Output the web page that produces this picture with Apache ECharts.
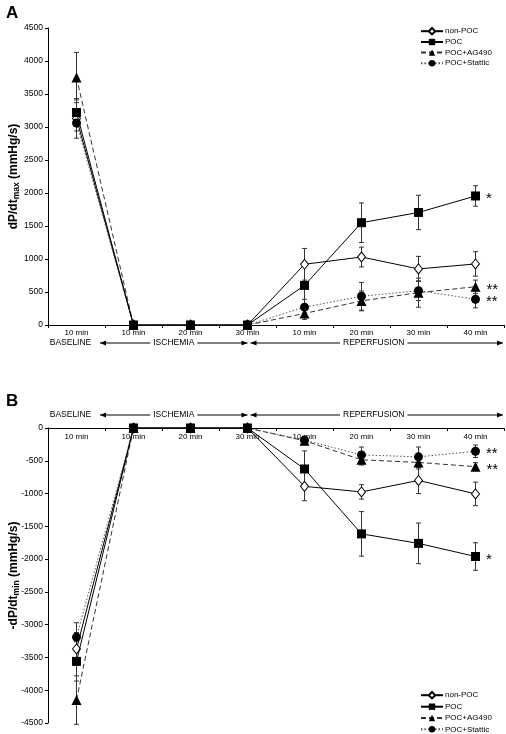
<!DOCTYPE html>
<html><head><meta charset="utf-8">
<script src="https://cdn.jsdelivr.net/npm/echarts@6/dist/echarts.min.js"></script>
<style>html,body{margin:0;padding:0;background:#fff}#c{width:506px;height:734px}</style>
</head><body><div id="c"></div>
<script>
// ---- data ----
const categories = ['10 min','10 min','20 min','30 min','10 min','20 min','30 min','40 min'];
const seriesNames = ['non-POC','POC','POC+AG490','POC+Stattic'];
const yTicksMax = [0, 4500, 500];
const yTicksMin = [-4500, 0, 500];

const nonPOC_max  = [3130, 0, 0, 0, 920, 1030, 850, 925];
const POC_max     = [3220, 0, 0, 0, 600, 1550, 1705, 1955];
const AG490_max   = [3750, 0, 0, 0, 175, 365, 490, 580];
const Stattic_max = [3060, 0, 0, 0, 270, 435, 520, 390];
const nonPOC_maxErr  = [300, 0, 0, 0, 240, 150, 190, 185];
const POC_maxErr     = [190, 0, 0, 0, 300, 300, 260, 155];
const AG490_maxErr   = [380, 0, 0, 0, 90, 150, 220, 100];
const Stattic_maxErr = [120, 0, 0, 0, 120, 210, 150, 130];

const nonPOC_min  = [-3370, 0, 0, 0, -890, -975, -800, -1005];
const POC_min     = [-3560, 0, 0, 0, -625, -1615, -1760, -1960];
const AG490_min   = [-4150, 0, 0, 0, -195, -485, -525, -590];
const Stattic_min = [-3190, 0, 0, 0, -185, -410, -440, -355];
const nonPOC_minErr  = [250, 0, 0, 0, 220, 110, 200, 180];
const POC_minErr     = [300, 0, 0, 0, 275, 340, 310, 210];
const AG490_minErr   = [370, 0, 0, 0, 60, 80, 100, 60];
const Stattic_minErr = [220, 0, 0, 0, 60, 120, 150, 95];

const stars = {'non-POC':'', 'POC':'*', 'POC+AG490':'**', 'POC+Stattic':'**'};
const phases = ['BASELINE','ISCHEMIA','REPERFUSION'];

// ---- styles ----
const FONT = '"Liberation Sans", Arial, sans-serif';
const styles = {
  'non-POC':    {symbol:'diamond', size:[8,10], item:{color:'#fff', borderColor:'#000', borderWidth:1}, line:{color:'#000', width:1, type:'solid'}, z:3},
  'POC':        {symbol:'rect', size:9, item:{color:'#000'}, line:{color:'#000', width:1, type:'solid'}, z:6},
  'POC+AG490':  {symbol:'triangle', size:10, item:{color:'#000'}, line:{color:'#333', width:1, type:[5,3]}, z:4},
  'POC+Stattic':{symbol:'circle', size:9, item:{color:'#000'}, line:{color:'#555', width:1, type:[1.5,2]}, z:5}
};
const maxVals = {'non-POC':nonPOC_max, 'POC':POC_max, 'POC+AG490':AG490_max, 'POC+Stattic':Stattic_max};
const maxErrs = {'non-POC':nonPOC_maxErr, 'POC':POC_maxErr, 'POC+AG490':AG490_maxErr, 'POC+Stattic':Stattic_maxErr};
const minVals = {'non-POC':nonPOC_min, 'POC':POC_min, 'POC+AG490':AG490_min, 'POC+Stattic':Stattic_min};
const minErrs = {'non-POC':nonPOC_minErr, 'POC':POC_minErr, 'POC+AG490':AG490_minErr, 'POC+Stattic':Stattic_minErr};

function lineSeries(name, vals, gi) {
  const s = styles[name];
  const data = vals.map((v, i) => {
    if (i === vals.length - 1 && stars[name]) {
      return {value: v, label: {show: true, formatter: stars[name], position: 'right', distance: 6,
        fontSize: 15, color: '#000', fontFamily: FONT, offset:[0,3]}};
    }
    return v;
  });
  return {
    type: 'line', name, xAxisIndex: gi, yAxisIndex: gi, data,
    symbol: s.symbol, symbolSize: s.size, showAllSymbol: true,
    itemStyle: s.item, lineStyle: s.line, z: s.z, animation: false,
    emphasis: {disabled: true}, clip: false
  };
}
function errSeries(valsMap, errMap, gi) {
  const data = [];
  seriesNames.forEach(n => valsMap[n].forEach((v, i) => { if (errMap[n][i]) data.push([i, v, errMap[n][i]]); }));
  return {
    type: 'custom', xAxisIndex: gi, yAxisIndex: gi, data, z: 1, clip: false, animation: false, silent: true,
    encode: {x: 0, y: 1},
    renderItem: function (params, api) {
      const x = api.value(0), y = api.value(1), e = api.value(2);
      const hi = api.coord([x, y + e]), lo = api.coord([x, y - e]);
      const w = 2.5, st = {stroke: '#333', lineWidth: 1};
      return {type: 'group', children: [
        {type: 'line', shape: {x1: hi[0], y1: hi[1], x2: lo[0], y2: lo[1]}, style: st},
        {type: 'line', shape: {x1: hi[0] - w, y1: hi[1], x2: hi[0] + w, y2: hi[1]}, style: st},
        {type: 'line', shape: {x1: lo[0] - w, y1: lo[1], x2: lo[0] + w, y2: lo[1]}, style: st}
      ]};
    }
  };
}

const axisLine = {show: true, onZero: false, lineStyle: {color: '#000', width: 1}};
const xLabelStyle = {fontSize: 8, color: '#000', fontFamily: FONT};
const yLabelStyle = {fontSize: 8.5, color: '#000', fontFamily: FONT, formatter: v => String(v)};
function nameRich() {
  return {
    fontFamily: FONT, color: '#000',
    rich: {
      a: {fontSize: 12, fontWeight: 'bold', fontFamily: FONT, color: '#000', lineHeight: 15},
      s: {fontSize: 8.5, fontWeight: 'bold', fontFamily: FONT, color: '#000', lineHeight: 15, verticalAlign: 'bottom', padding: [5, 0, 0, 0]}
    }
  };
}

const legendCommon = {
  orient: 'vertical', data: seriesNames, itemWidth: 22, itemHeight: 8, padding: 0,
  textStyle: {fontSize: 8, color: '#000', fontFamily: FONT, padding: [0, 0, 0, -3]},
  selectedMode: false
};

const series = [];
seriesNames.forEach(n => series.push(lineSeries(n, maxVals[n], 0)));
seriesNames.forEach(n => series.push(lineSeries(n, minVals[n], 1)));
series.push(errSeries(maxVals, maxErrs, 0));
series.push(errSeries(minVals, minErrs, 1));

const option = {
  backgroundColor: '#fff',
  animation: false,
  textStyle: {fontFamily: FONT},
  title: [
    {text: 'A', left: 1, top: 0, textStyle: {fontSize: 17, fontWeight: 'bold', color: '#000', fontFamily: FONT}},
    {text: 'B', left: 1, top: 388, textStyle: {fontSize: 17, fontWeight: 'bold', color: '#000', fontFamily: FONT}}
  ],
  legend: [
    Object.assign({}, legendCommon, {left: 420, top: 27, itemGap: 2.6}),
    Object.assign({}, legendCommon, {left: 420, top: 691, itemGap: 3.3})
  ],
  grid: [
    {left: 48, top: 28, width: 456, height: 297, outerBoundsMode: 'none', containLabel: false},
    {left: 48, top: 428, width: 456, height: 295, outerBoundsMode: 'none', containLabel: false}
  ],
  xAxis: [
    {type: 'category', gridIndex: 0, data: categories, boundaryGap: true, position: 'bottom',
     axisLine, axisTick: {show: true, length: 3, lineStyle: {color: '#000'}},
     axisLabel: Object.assign({margin: 4, interval: 0}, xLabelStyle), splitLine: {show: false}},
    {type: 'category', gridIndex: 1, data: categories, boundaryGap: true, position: 'top',
     axisLine, axisTick: {show: true, inside: true, length: 3, lineStyle: {color: '#000'}},
     axisLabel: Object.assign({margin: 5, interval: 0, inside: true}, xLabelStyle), splitLine: {show: false}}
  ],
  yAxis: [
    {type: 'value', gridIndex: 0, min: yTicksMax[0], max: yTicksMax[1], interval: yTicksMax[2],
     axisLine, axisTick: {show: true, length: 3, lineStyle: {color: '#000'}},
     axisLabel: Object.assign({margin: 5}, yLabelStyle), splitLine: {show: false},
     name: '{a|dP/dt}{s|max}{a| (mmHg/s)}', nameLocation: 'middle', nameGap: 27, nameMoveOverlap: false,
     nameTextStyle: nameRich()},
    {type: 'value', gridIndex: 1, min: yTicksMin[0], max: yTicksMin[1], interval: yTicksMin[2],
     axisLine, axisTick: {show: true, length: 3, lineStyle: {color: '#000'}},
     axisLabel: Object.assign({margin: 5}, yLabelStyle), splitLine: {show: false},
     name: '{a|-dP/dt}{s|min}{a| (mmHg/s)}', nameLocation: 'middle', nameGap: 27, nameMoveOverlap: false,
     nameTextStyle: nameRich()}
  ],
  series
};

const chart = echarts.init(document.getElementById('c'), null, {renderer: 'canvas'});
chart.setOption(option);

// ---- phase annotations positioned from the axes ----
function phaseGraphics(gi, yOffset) {
  const px = i => chart.convertToPixel({xAxisIndex: gi}, i);
  const c0 = px(0), c1 = px(1), c3 = px(3), c7 = px(7);
  const band = c1 - c0;
  const y0 = chart.convertToPixel({yAxisIndex: gi}, 0) + yOffset;
  const els = [];
  const txt = (t, x) => ({type: 'text', x, y: y0, z: 10, style: {text: t, fontSize: 8.5, fontFamily: FONT, fill: '#000',
    align: 'center', verticalAlign: 'middle', backgroundColor: '#fff', padding: [0, 3]}});
  const line = (a, b) => ({type: 'line', z: 9, shape: {x1: a, y1: y0, x2: b, y2: y0}, style: {stroke: '#000', lineWidth: 1}});
  const head = (x, dir) => ({type: 'polygon', z: 9, shape: {points: [[x, y0], [x - dir * 6, y0 - 2.5], [x - dir * 6, y0 + 2.5]]}, style: {fill: '#000'}});
  const iL = c0 + band / 2 - 5, iR = c3;
  const rL = c3 + 3, rR = c7 + band / 2 - 1;
  els.push(line(iL, iR), head(iL, -1), head(iR, 1));
  els.push(line(rL, rR), head(rL, -1), head(rR, 1));
  els.push(txt(phases[0], c0 - 6));
  els.push(txt(phases[1], (iL + iR) / 2));
  els.push(txt(phases[2], (rL + rR) / 2 - 3));
  return els;
}
chart.setOption({graphic: phaseGraphics(0, 18).concat(phaseGraphics(1, -13))});
</script>
</body></html>
